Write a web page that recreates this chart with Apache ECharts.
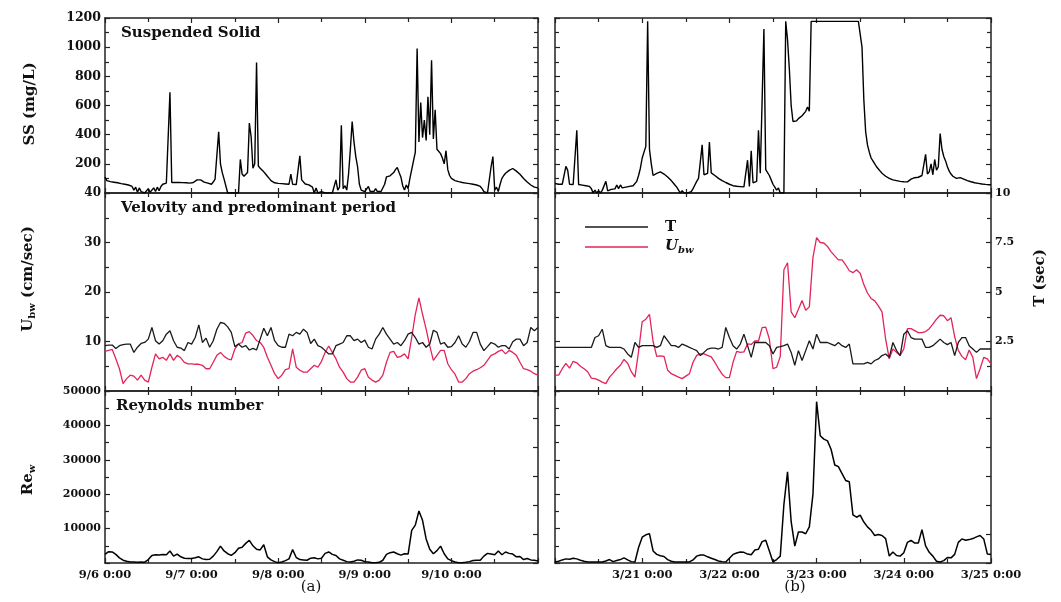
<!DOCTYPE html>
<html><head><meta charset="utf-8">
<script src="https://cdn.jsdelivr.net/npm/echarts@6/dist/echarts.min.js"></script>
<style>html,body{margin:0;padding:0;background:#fff}#c{width:1061px;height:602px}</style>
</head><body><div id="c"></div>
<script>
// sampling steps (hours)
const ssStep = 0.5;
const hourStep = 1;

// Suspended solid (mg/L), every 30 min, 9/6 0:00 -> 9/11 0:00
const ssLeft = [
110,85,75,78,76,74,72,70,66,64,62,60,58,55,50,45,
20,40,5,35,10,0,0,0,30,5,0,35,10,40,15,45,
60,65,68,70,690,72,72,72,73,72,70,71,72,70,69,68,
70,72,75,90,100,90,80,75,72,68,62,60,75,95,90,420,
200,140,95,85,0,0,0,0,0,0,0,230,130,115,125,140,
480,385,170,200,895,185,170,160,145,130,115,100,85,78,70,68,
66,65,64,62,62,60,60,130,60,58,58,60,255,90,80,62,
58,56,55,40,0,35,0,0,10,0,0,0,0,5,0,0,
90,20,40,465,30,50,20,130,300,490,350,250,180,60,20,15,
10,10,45,10,10,10,30,10,10,10,10,60,110,120,118,125,
140,160,175,140,110,50,20,55,30,100,160,220,280,990,350,620,
380,500,360,660,400,910,370,570,300,290,270,240,200,290,160,120,
100,90,85,80,78,75,72,70,68,66,64,62,60,58,55,50,
45,30,10,0,0,0,180,250,20,40,10,60,100,120,135,145,
155,165,168,160,150,140,128,115,100,88,75,65,55,50,40,45,35];

// Suspended solid (mg/L), every 30 min, 3/20 0:00 -> 3/25 0:00
const ssRight = [
65,62,60,60,60,62,183,155,60,58,58,57,430,58,55,54,
52,50,48,45,30,0,20,0,15,0,18,5,80,15,20,25,
22,28,55,30,55,35,40,40,42,45,48,50,55,80,120,170,
240,280,320,1177,300,200,120,125,135,140,145,140,130,120,110,100,
85,70,55,40,20,0,15,0,0,0,5,10,30,55,80,100,
110,330,125,130,135,350,138,130,120,110,100,92,85,78,72,66,
60,55,50,48,46,45,44,43,42,42,225,45,290,70,75,80,
430,135,140,1125,160,150,120,90,60,40,20,35,0,10,0,1177,
1050,850,600,490,500,495,510,505,530,520,560,590,560,1177,1177,1177,
1177,1177,1177,1177,1177,1177,1177,1177,1177,1177,1177,1177,1177,1177,1177,1177,
1177,1177,1177,1177,1177,1177,1177,1177,1177,1000,640,420,330,280,240,220,
200,180,165,150,135,125,115,108,100,95,90,87,85,82,80,78,
77,76,76,80,95,100,105,110,108,115,120,118,265,130,145,200,
125,230,156,180,408,300,250,220,180,150,130,115,105,100,102,105,
100,95,90,85,80,77,74,70,68,66,64,62,60,59,58,57,57];

// Predominant period T (sec), hourly
const tLeft = [
2.29,2.32,2.32,2.15,2.29,2.34,2.37,2.37,1.95,2.21,
2.40,2.45,2.62,3.21,2.54,2.37,2.54,2.87,3.04,2.54,
2.21,2.17,2.04,2.45,2.37,2.70,3.34,2.45,2.67,2.21,
2.54,3.12,3.46,3.42,3.24,2.96,2.24,2.37,2.21,2.29,
2.07,2.15,2.07,2.62,3.17,2.79,3.21,2.54,2.29,2.21,
2.21,2.87,2.79,2.96,2.87,3.12,2.96,2.40,2.62,2.29,
2.21,2.04,1.87,1.87,2.29,2.37,2.45,2.79,2.79,2.54,
2.62,2.45,2.57,2.21,2.12,2.62,2.87,3.21,2.87,2.62,
2.37,2.45,2.29,2.54,2.87,2.96,2.70,2.37,2.45,2.21,
2.37,3.07,2.96,2.37,2.45,2.21,2.24,2.45,2.79,2.37,
2.21,2.50,2.96,2.96,2.37,2.04,2.24,2.45,2.37,2.21,
2.29,2.29,2.12,2.49,2.62,2.62,2.29,2.45,3.21,3.04,
3.21];
const tRight = [
2.20,2.20,2.20,2.20,2.20,2.20,2.20,2.20,2.20,2.20,
2.20,2.70,2.79,3.12,2.29,2.20,2.20,2.20,2.20,2.12,
1.87,1.70,2.45,2.20,2.29,2.29,2.29,2.29,2.20,2.29,
2.79,2.54,2.29,2.29,2.20,2.37,2.29,2.20,2.12,2.04,
1.79,1.95,2.12,2.17,2.17,2.12,2.20,3.21,2.70,2.29,
2.12,2.37,2.87,2.29,1.70,2.45,2.45,2.45,2.45,2.29,
1.87,2.20,2.24,2.29,2.37,1.95,1.30,2.04,1.54,2.04,
2.54,2.12,2.87,2.45,2.45,2.45,2.37,2.29,2.45,2.29,
2.20,2.37,1.37,1.37,1.37,1.37,1.45,1.37,1.54,1.62,
1.79,1.87,1.70,2.45,2.04,1.79,2.87,3.04,2.70,2.62,
2.62,2.62,2.20,2.20,2.29,2.45,2.62,2.45,2.34,2.45,
1.79,2.45,2.70,2.70,2.29,2.12,1.95,2.12,2.12,2.12,
2.12];

// Bottom velocity Ubw (cm/sec), hourly
const uLeft = [
8.0,8.2,8.4,6.5,4.5,1.5,2.5,3.2,3.0,2.2,
3.2,2.2,1.8,4.8,7.5,6.5,6.8,6.2,7.5,6.2,
7.2,6.7,5.8,5.5,5.5,5.4,5.4,5.2,4.5,4.5,
5.8,7.2,7.8,7.0,6.5,6.3,8.5,9.5,9.8,11.7,
12.0,11.2,10.2,9.8,8.8,6.8,5.2,3.5,2.5,3.2,
4.3,4.5,8.5,4.8,4.2,3.8,3.8,4.5,5.2,4.8,
6.0,7.8,9.1,7.8,6.5,4.8,3.8,2.5,1.8,1.8,
2.8,4.2,4.5,2.8,2.2,1.8,2.2,3.2,5.8,7.8,
8.0,6.8,7.0,7.5,6.5,10.8,15.5,18.8,15.5,12.5,
9.1,6.2,7.2,8.2,8.2,5.5,4.3,3.4,1.8,1.8,
2.5,3.5,4.0,4.3,4.7,5.2,6.2,7.2,7.5,8.0,
8.3,7.5,8.2,7.8,7.2,5.8,4.5,4.3,4.0,3.5,
3.2];
const uRight = [
3.2,3.2,4.5,5.6,4.6,6.0,5.7,5.0,4.5,3.9,
2.6,2.5,2.2,1.8,1.5,2.8,3.6,4.5,5.2,6.4,
5.6,3.9,2.8,8.0,14.0,14.5,15.5,10.0,7.0,7.1,
7.0,4.2,3.5,3.15,2.8,2.5,3.0,3.5,5.8,7.2,
7.5,7.5,7.2,6.9,5.8,4.5,3.4,2.7,2.7,5.8,
8.0,7.8,7.9,9.5,9.4,10.1,10.1,12.8,12.9,10.5,
4.5,4.8,7.0,24.5,25.9,16.0,14.8,16.5,18.3,16.3,
17.0,27.0,31.0,30.0,29.9,29.2,28.1,27.3,26.5,26.5,
25.5,24.3,23.9,24.5,23.8,21.5,19.8,18.7,18.2,17.2,
16.0,10.5,6.5,8.5,7.8,7.2,8.5,12.6,12.6,12.2,
11.8,11.8,12.0,12.6,13.5,14.5,15.3,15.2,14.2,14.8,
11.0,8.2,7.0,6.3,8.3,6.8,2.5,4.5,6.8,6.5,
5.5];

// Reynolds number Re_w, hourly
const reLeft = [
2500,3300,3200,2500,1500,800,500,300,300,250,
300,250,1000,2200,2400,2300,2500,2400,3500,2000,
2600,1800,1400,1300,1300,1500,1800,1200,1000,1100,
2000,3300,4900,3500,2700,2200,3000,4300,4600,5700,
6600,5000,4000,3800,5300,1800,900,400,100,300,
700,1200,3900,1600,1000,900,800,1400,1500,1200,
1400,2800,3200,2500,2200,1200,800,400,300,500,
900,800,400,300,100,100,200,800,2500,3000,
3200,2700,2300,2700,2600,9500,11000,15100,12400,7000,
4000,2700,3600,4900,2700,1200,700,300,100,100,
200,400,700,800,800,2000,2800,2600,2400,3500,
2400,3200,2800,2600,1800,1900,1000,1300,900,800,
600];
const reRight = [
300,500,900,1200,1100,1400,1200,800,500,300,
300,300,300,300,600,1000,400,700,1000,1500,
900,400,300,4500,7500,8200,8500,3500,2500,2100,
1900,1000,500,300,300,300,300,300,900,2000,
2300,2300,1800,1400,1000,600,400,300,1400,2500,
2900,3200,3100,2600,2400,3800,4000,6200,6600,3500,
300,1000,2000,17000,26500,12000,4900,9000,9000,8500,
10500,20000,46900,37000,36000,35500,33000,28500,28000,26000,
24000,23600,14000,13300,13900,11900,10500,9500,8000,8300,
8000,7100,2000,3200,2200,2000,3000,6000,6600,5800,
5800,9700,5000,3100,2000,500,300,700,1600,1500,
2500,6000,7000,6600,6800,7100,7600,8000,7000,2600,
2500];

// tick labels
const leftDayLabels = ['9/6 0:00','9/7 0:00','9/8 0:00','9/9 0:00','9/10 0:00',''];
const rightDayLabels = ['','3/21 0:00','3/22 0:00','3/23 0:00','3/24 0:00','3/25 0:00'];
const ssTickLabels = ['','200','400','600','800','1000','1200'];
const uTickLabels = ['','10','20','30','40'];
const tTickLabels = ['','2.5','5','7.5','10'];
const reTickLabels = ['','10000','20000','30000','40000','50000'];

const FONT = 'DejaVu Serif';
const AX = '#222';
const TXT = '#111';
const RED = '#e3245a';

function pairs(arr, step){ return arr.map((v,i)=>[i*step, v]); }

const grids = [
  {left:105, top:18, width:433, height:175},
  {left:555, top:18, width:436, height:175},
  {left:105, top:193, width:433, height:198},
  {left:555, top:193, width:436, height:198},
  {left:105, top:391, width:433, height:172},
  {left:555, top:391, width:436, height:172}
];

const tickStyle = {color:AX, width:1.2};
function xPair(g, labels, showLabels){
  const base = {type:'value', gridIndex:g, min:0, max:120, interval:24,
    axisLine:{show:true, onZero:false, lineStyle:{color:AX, width:1.5}},
    axisTick:{show:true, inside:true, length:5, lineStyle:tickStyle},
    minorTick:{show:true, splitNumber:2, length:4, lineStyle:tickStyle},
    splitLine:{show:false}, minorSplitLine:{show:false}};
  return [
    Object.assign({}, base, {position:'bottom', axisLabel:{show:showLabels, margin:6, color:TXT,
      fontFamily:FONT, fontWeight:'bold', fontSize:11.5, hideOverlap:false,
      showMinLabel:true, showMaxLabel:true,
      formatter: v => labels[Math.round(v/24)]}}),
    Object.assign({}, base, {position:'top', axisLabel:{show:false}})
  ];
}
function yAx(g, pos, min, max, interval, labels, fontSize, minor){
  return {type:'value', gridIndex:g, position:pos, min:min, max:max, interval:interval,
    axisLine:{show:true, onZero:false, lineStyle:{color:AX, width:1.5}},
    axisTick:{show:true, inside:true, length:5, lineStyle:tickStyle},
    minorTick:{show:minor!==false, splitNumber:2, length:4, lineStyle:tickStyle},
    splitLine:{show:false}, minorSplitLine:{show:false},
    axisLabel:{show:!!labels, margin:4, color:TXT, fontFamily:FONT, fontWeight:'bold', fontSize:fontSize,
      showMinLabel:true, showMaxLabel:true, hideOverlap:false,
      formatter: v => labels ? labels[Math.round((v-min)/interval)] : ''}};
}

const xAxis = [].concat(
  xPair(0, leftDayLabels, false), xPair(1, rightDayLabels, false),
  xPair(2, leftDayLabels, false), xPair(3, rightDayLabels, false),
  xPair(4, leftDayLabels, true),  xPair(5, rightDayLabels, true));

const yAxis = [
  yAx(0,'left',0,1200,200,ssTickLabels,12.5), yAx(0,'right',0,1200,200,null),
  yAx(1,'left',0,1200,200,null),               yAx(1,'right',0,1200,200,null),
  yAx(2,'left',0,40,10,uTickLabels,12),        yAx(2,'right',0,10,2.5,null),
  yAx(3,'left',0,40,10,null),                  yAx(3,'right',0,10,2.5,tTickLabels,11),
  yAx(4,'left',0,50000,10000,reTickLabels,11), yAx(4,'right',0,5.93,1,null,11,false),
  yAx(5,'left',0,50000,10000,null),            yAx(5,'right',0,5.93,1,null,11,false)
];

function line(name, g, yIdx, data, color, width){
  return {type:'line', name:name, xAxisIndex:2*g, yAxisIndex:2*g+yIdx, data:data,
    symbol:'none', showSymbol:false, lineStyle:{color:color, width:width}, itemStyle:{color:color},
    animation:false, z:3};
}

const series = [
  line('SS', 0, 0, pairs(ssLeft, ssStep), '#000', 1.4),
  line('SS', 1, 0, pairs(ssRight, ssStep), '#000', 1.4),
  line('Ubw', 2, 0, pairs(uLeft, hourStep), RED, 1.3),
  line('T', 2, 1, pairs(tLeft, hourStep), '#1a1a1a', 1.3),
  line('Ubw', 3, 0, pairs(uRight, hourStep), RED, 1.3),
  line('T', 3, 1, pairs(tRight, hourStep), '#1a1a1a', 1.3),
  line('Re', 4, 0, pairs(reLeft, hourStep), '#000', 1.5),
  line('Re', 5, 0, pairs(reRight, hourStep), '#000', 1.5)
];

function txt(x, y, text, size){
  return {type:'text', x:x, y:y, silent:true,
    style:{text:text, fill:TXT, fontFamily:FONT, fontWeight:'bold', fontSize:size,
      align:'left', verticalAlign:'middle'}};
}
const subRich = {
  b:{fontFamily:FONT, fontWeight:'bold', fontSize:15, lineHeight:16, verticalAlign:'top', fill:TXT},
  s:{fontFamily:FONT, fontWeight:'bold', fontSize:10, lineHeight:10, verticalAlign:'bottom', fill:TXT}
};

const graphic = [
  txt(121, 33, 'Suspended Solid', 15),
  txt(121, 208, 'Velovity and predominant period', 15),
  txt(116, 406, 'Reynolds number', 15),
  {type:'text', x:30, y:104, rotation:Math.PI/2, silent:true,
    style:{text:'SS (mg/L)', fill:TXT, fontFamily:FONT, fontWeight:'bold', fontSize:15, align:'center', verticalAlign:'middle'}},
  {type:'text', x:29, y:279, rotation:Math.PI/2, silent:true,
    style:{text:'{b|U}{s|bw}{b| (cm/sec)}', rich:subRich, align:'center', verticalAlign:'middle'}},
  {type:'text', x:29, y:480, rotation:Math.PI/2, silent:true,
    style:{text:'{b|Re}{s|w}', rich:subRich, align:'center', verticalAlign:'middle'}},
  {type:'text', x:1040, y:278, rotation:Math.PI/2, silent:true,
    style:{text:'T (sec)', fill:TXT, fontFamily:FONT, fontWeight:'bold', fontSize:15, align:'center', verticalAlign:'middle'}},
  {type:'text', x:311, y:587, silent:true,
    style:{text:'(a)', fill:TXT, fontFamily:FONT, fontSize:15, align:'center', verticalAlign:'middle'}},
  {type:'text', x:795, y:587, silent:true,
    style:{text:'(b)', fill:TXT, fontFamily:FONT, fontSize:15, align:'center', verticalAlign:'middle'}}
];

const chart = echarts.init(document.getElementById('c'), null, {renderer:'canvas'});
chart.setOption({
  animation:false,
  backgroundColor:'#fff',
  grid: grids,
  xAxis: xAxis,
  yAxis: yAxis,
  series: series,
  graphic: graphic,
  legend: {
    data:['T','Ubw'], orient:'vertical', left:580, top:213, icon:'rect',
    itemWidth:63, itemHeight:1.5, itemGap:3,
    selectedMode:false,
    textStyle:{color:TXT, fontFamily:FONT, fontWeight:'bold', fontSize:15, lineHeight:18, padding:[0,0,0,12],
      rich:{
        t:{fontFamily:FONT, fontWeight:'bold', fontSize:15, lineHeight:18, color:TXT},
        u:{fontFamily:FONT, fontWeight:'bold', fontStyle:'italic', fontSize:15, lineHeight:16, verticalAlign:'top', color:TXT},
        s:{fontFamily:FONT, fontWeight:'bold', fontStyle:'italic', fontSize:10, lineHeight:10, verticalAlign:'bottom', color:TXT}
      }},
    formatter: n => n === 'Ubw' ? '{u|U}{s|bw}' : '{t|T}'
  }
});
</script></body></html>
